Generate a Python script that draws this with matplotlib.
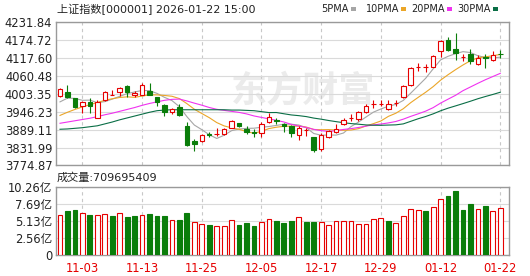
import numpy as np
import matplotlib.pyplot as plt
from matplotlib.patches import Rectangle

plt.rcParams['font.family'] = ['DejaVu Sans', 'Noto Sans CJK SC']

# trading days shown (MM-DD)
dates = ['10-29', '10-30', '10-31', '11-03', '11-04', '11-05', '11-06', '11-07',
         '11-10', '11-11', '11-12', '11-13', '11-14', '11-17', '11-18', '11-19',
         '11-20', '11-21', '11-24', '11-25', '11-26', '11-27', '11-28', '12-01',
         '12-02', '12-03', '12-04', '12-05', '12-08', '12-09', '12-10', '12-11',
         '12-12', '12-15', '12-16', '12-17', '12-18', '12-19', '12-22', '12-23',
         '12-24', '12-25', '12-26', '12-29', '12-30', '12-31', '01-05', '01-06',
         '01-07', '01-08', '01-09', '01-12', '01-13', '01-14', '01-15', '01-16',
         '01-19', '01-20', '01-21', '01-22']

opens = [3996, 4009, 3988, 3964, 3977, 3927, 3984, 4000, 4008, 4028,
         3999, 4000, 4011, 3992, 3967, 3944, 3960, 3899, 3853, 3853,
         3874, 3874, 3876, 3895, 3910, 3891, 3881, 3878, 3912, 3919,
         3908, 3900, 3872, 3887, 3864, 3827, 3864, 3880, 3906, 3925,
         3923, 3944, 3969, 3971, 3954, 3973, 3994, 4030, 4089, 4087,
         4089, 4139, 4174, 4144, 4119, 4129, 4097, 4121, 4110, 4130]
highs = [4022, 4030, 3990, 3981, 3988, 3982, 4013, 4015, 4024, 4030,
         4013, 4038, 4038, 3994, 3971, 3957, 3971, 3914, 3859, 3876,
         3880, 3895, 3895, 3918, 3911, 3899, 3891, 3914, 3941, 3926,
         3911, 3902, 3899, 3895, 3866, 3878, 3889, 3906, 3925, 3939,
         3948, 3969, 3982, 3984, 3982, 3982, 4032, 4087, 4100, 4097,
         4127, 4174, 4184, 4195, 4129, 4144, 4127, 4129, 4139, 4143]
lows = [3993, 3990, 3958, 3942, 3941, 3925, 3979, 3998, 3996, 3994,
        3994, 3998, 3998, 3963, 3933, 3940, 3931, 3838, 3822, 3849,
        3866, 3870, 3872, 3893, 3896, 3874, 3865, 3866, 3910, 3908,
        3880, 3866, 3855, 3868, 3818, 3821, 3862, 3878, 3904, 3916,
        3916, 3942, 3958, 3963, 3952, 3963, 3990, 4028, 4076, 4072,
        4087, 4121, 4139, 4111, 4106, 4097, 4095, 4085, 4108, 4118]
closes = [4019, 3992, 3960, 3977, 3965, 3978, 4009, 4000, 4021, 4009,
          4004, 4032, 3998, 3977, 3946, 3953, 3935, 3840, 3843, 3873,
          3872, 3876, 3891, 3916, 3899, 3882, 3879, 3906, 3928, 3916,
          3901, 3879, 3893, 3887, 3823, 3873, 3883, 3891, 3921, 3925,
          3944, 3963, 3969, 3971, 3969, 3973, 4026, 4085, 4089, 4087,
          4122, 4169, 4142, 4131, 4119, 4108, 4118, 4116, 4125, 4128]
# volume in 亿 (1e8)
volumes = [6.05, 6.7, 6.85, 6.35, 6.1, 6.1, 6.2, 5.9, 6.35, 5.8,
           5.9, 6.05, 6.2, 5.9, 5.9, 5.3, 5.3, 6.4, 5.0, 4.75,
           4.55, 4.4, 4.4, 5.3, 4.55, 4.85, 4.4, 5.0, 5.5, 5.2,
           4.9, 5.15, 5.7, 5.0, 5.0, 5.0, 4.55, 5.15, 5.15, 5.15,
           4.7, 4.7, 5.45, 5.6, 5.15, 4.85, 5.9, 6.9, 6.8, 6.7,
           7.25, 8.4, 8.8, 9.55, 6.8, 7.7, 6.9, 7.4, 6.65, 7.09695409]

# moving average values before the window is full
ma5_head = [3977, 3989, 3988, 3982]
ma10_head = [3934, 3944, 3953, 3961, 3968, 3975, 3982, 3987, 3991]
ma20_head = [3909, 3913, 3917, 3921, 3925, 3930, 3936, 3941, 3947, 3953,
             3959, 3966, 3972, 3977, 3982, 3985, 3986, 3980, 3973]
ma30_head = [3890, 3891, 3893, 3895, 3898, 3901, 3907, 3913, 3920, 3926,
             3932, 3938, 3944, 3949, 3951, 3952, 3952, 3952, 3952, 3952,
             3952, 3952, 3952, 3951, 3951, 3950, 3949, 3946, 3943]

price_ticks = [3774.87, 3831.99, 3889.11, 3946.23, 4003.35, 4060.48, 4117.60, 4174.72, 4231.84]
vol_ticks = [0, 2.56, 5.13, 7.69, 10.26]
date_labels = ['11-03', '11-13', '11-25', '12-05', '12-17', '12-29', '01-12', '01-22']

ma_names = ['5PMA', '10PMA', '20PMA', '30PMA']
ma_heads = [ma5_head, ma10_head, ma20_head, ma30_head]
ma_colors = ['#a6a6a6', '#eba628', '#f032f0', '#0a6e46']

RED = '#e60000'
GREEN = '#0a7d0a'
GRID = '#dadada'

fig = plt.figure(figsize=(5.3, 2.76), dpi=100)
ax = fig.add_axes([0.1051, 0.4004, 0.8553, 0.5210])
axv = fig.add_axes([0.1051, 0.0743, 0.8553, 0.2493])

x = np.arange(len(dates))
o = np.array(opens, float)
c = np.array(closes, float)
h = np.array(highs, float)
l = np.array(lows, float)
up = c >= o

# moving averages
for name, head, col in zip(ma_names, ma_heads, ma_colors):
    n = len(head) + 1
    ma = np.concatenate([head, np.convolve(c, np.ones(n) / n, mode='valid')])
    ax.plot(x, ma, color=col, lw=0.8, zorder=2)

# candles
w = 0.6
top = np.maximum(o, c)
bot = np.minimum(o, c)
for i in range(len(x)):
    col = RED if up[i] else GREEN
    ax.vlines(x[i], top[i], h[i], color=col, lw=0.8, zorder=3)
    ax.vlines(x[i], l[i], bot[i], color=col, lw=0.8, zorder=3)
    ax.add_patch(Rectangle((x[i] - w / 2, bot[i]), w, top[i] - bot[i],
                           facecolor='white' if up[i] else GREEN,
                           edgecolor=col, lw=0.8, zorder=4))

# volume bars: colour by close vs previous close
vol_up = [c[0] >= o[0]] + [c[i] >= c[i - 1] for i in range(1, len(c))]
axv.bar(x, volumes, width=0.64,
        color=['white' if u else GREEN for u in vol_up],
        edgecolor=[RED if u else GREEN for u in vol_up], lw=0.8, zorder=3)

date_pos = [dates.index(d) for d in date_labels]
for a in (ax, axv):
    a.set_xlim(-0.576, 60.17)
    a.set_xticks(date_pos)
    a.set_axisbelow(True)
    a.grid(axis='y', color=GRID, lw=0.8)
    a.grid(axis='x', color='#c8c8c8', lw=0.8, ls=(0, (3, 3)))
    a.tick_params(length=0, labelsize=8.3, colors='#222222', pad=2.5)
    for s in a.spines.values():
        s.set_color('#9a9a9a')
        s.set_linewidth(1.0)

ax.set_ylim(price_ticks[0], price_ticks[-1])
ax.set_yticks(price_ticks)
ax.set_yticklabels(['%.2f' % t for t in price_ticks])
ax.set_xticklabels([])

axv.set_ylim(0, vol_ticks[-1])
axv.set_yticks(vol_ticks)
axv.set_yticklabels(['0'] + ['%.2f亿' % t for t in vol_ticks[1:]])
axv.set_xticklabels(date_labels)
axv.tick_params(axis='x', colors=RED, pad=4.5)

# watermark
ax.text(303 / 530, 1 - 91 / 276, '东方财富', transform=fig.transFigure,
        fontsize=26, fontweight='bold', color='#ebebeb',
        family=['Noto Sans CJK SC'], ha='center', va='center', zorder=0.5)

# header texts
fig.text(57 / 530, 1 - 9 / 276, '上证指数[000001] 2026-01-22 15:00',
         fontsize=8, color='#222222', ha='left', va='center')
fig.text(57 / 530, 1 - 177.5 / 276, '成交量:%d' % round(volumes[-1] * 1e8),
         fontsize=8, color='#222222', ha='left', va='center')

# legend
marker_x = [351, 401, 447, 493]
for name, col, mx in zip(ma_names, ma_colors, marker_x):
    fig.text((mx - 2) / 530, 1 - 9 / 276, name, fontsize=7, color='#222222',
             ha='right', va='center')
    fig.patches.append(Rectangle((mx / 530, 1 - 10.8 / 276), 4.5 / 530, 3.5 / 276,
                                 transform=fig.transFigure, facecolor=col,
                                 edgecolor='none', figure=fig))

fig.savefig('out.png', dpi=100)
